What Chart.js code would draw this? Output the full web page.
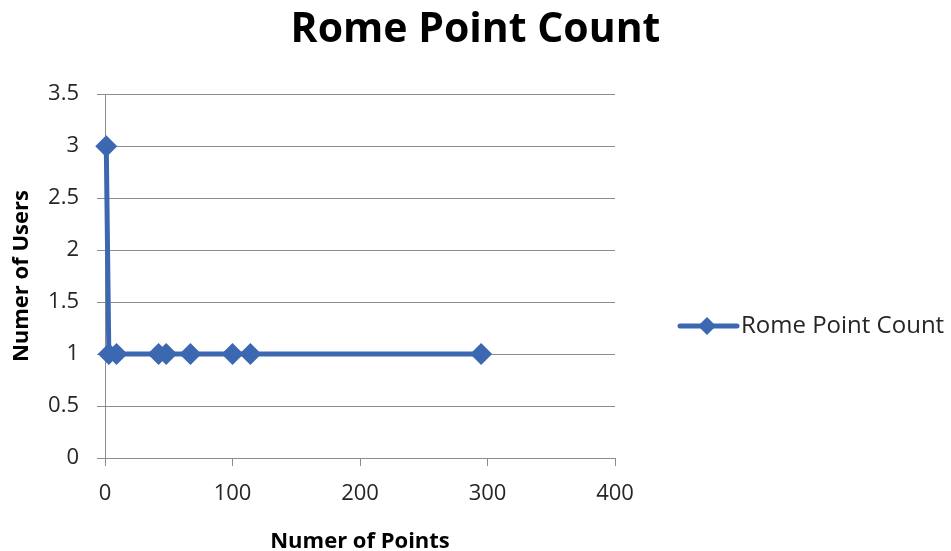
<!DOCTYPE html>
<html>
<head>
<meta charset="utf-8">
<title>Rome Point Count</title>
<script src="https://cdn.jsdelivr.net/npm/chart.js@4.4.1/dist/chart.umd.min.js"></script>
<style>
  html, body { margin: 0; padding: 0; background: #ffffff; }
  #wrap { width: 951px; height: 551px; }
</style>
</head>
<body>
<div id="wrap"><canvas id="chart" width="951" height="551"></canvas></div>
<script>
// Number of points per user and how many users had that count
const seriesName = 'Rome Point Count';
const pointCounts = [1, 3, 9, 42, 48, 67, 100, 114, 295];
const userCounts  = [3, 1, 1, 1, 1, 1, 1, 1, 1];
const xTicks = [0, 100, 200, 300, 400];
const yTicks = [0, 0.5, 1, 1.5, 2, 2.5, 3, 3.5];

const FONT = "'Open Sans', 'Liberation Sans', sans-serif";
const BLUE = '#3C68B1';
const GRID = '#8C8C8C';
const TEXT = '#262626';

// Legend drawn to the right of the plot: a line segment with a diamond marker
const sideLegend = {
  id: 'sideLegend',
  afterDraw(chart) {
    const ds = chart.data.datasets[0];
    const ctx = chart.ctx;
    const cy = 326, x0 = 680, x1 = 737, cx = 707, r = 9;
    ctx.save();
    ctx.strokeStyle = ds.borderColor;
    ctx.lineWidth = ds.borderWidth;
    ctx.lineCap = 'round';
    ctx.beginPath();
    ctx.moveTo(x0, cy);
    ctx.lineTo(x1, cy);
    ctx.stroke();
    ctx.fillStyle = ds.pointBackgroundColor;
    ctx.beginPath();
    ctx.moveTo(cx, cy - r);
    ctx.lineTo(cx + r, cy);
    ctx.lineTo(cx, cy + r);
    ctx.lineTo(cx - r, cy);
    ctx.closePath();
    ctx.fill();
    ctx.fillStyle = TEXT;
    ctx.font = '24px ' + FONT;
    ctx.textAlign = 'left';
    ctx.textBaseline = 'middle';
    ctx.fillText(ds.label, 741, cy);
    ctx.restore();
  }
};

new Chart(document.getElementById('chart'), {
  type: 'scatter',
  data: {
    datasets: [{
      label: seriesName,
      data: pointCounts.map((x, i) => ({ x: x, y: userCounts[i] })),
      showLine: true,
      borderColor: BLUE,
      borderWidth: 5,
      backgroundColor: BLUE,
      pointBackgroundColor: BLUE,
      pointBorderColor: BLUE,
      pointBorderWidth: 0,
      pointStyle: 'rectRot',
      pointRadius: 11,
      pointHoverRadius: 11,
      clip: false
    }]
  },
  options: {
    responsive: false,
    animation: false,
    layout: { padding: 0 },
    plugins: {
      legend: { display: false },
      tooltip: { enabled: false },
      title: {
        display: true,
        text: seriesName,
        color: '#000000',
        font: { family: FONT, size: 41, weight: 'bold', lineHeight: 1.2 },
        padding: { top: 6, bottom: 39 }
      }
    },
    scales: {
      x: {
        type: 'linear',
        min: 0,
        max: 400,
        afterBuildTicks(scale) { scale.ticks = xTicks.map(v => ({ value: v })); },
        afterFit(scale) { scale.height = 93; },
        grid: {
          drawOnChartArea: false,
          drawTicks: true,
          tickLength: 8,
          color: GRID,
          lineWidth: 1
        },
        border: { color: GRID, width: 1 },
        ticks: {
          color: TEXT,
          font: { family: FONT, size: 22 },
          padding: 15,
          maxRotation: 0
        },
        title: {
          display: true,
          text: 'Numer of Points',
          color: '#000000',
          font: { family: FONT, size: 22, weight: 'bold', lineHeight: 0.85 },
          padding: { top: 0, bottom: 0 }
        }
      },
      y: {
        type: 'linear',
        min: 0,
        max: 3.5,
        afterBuildTicks(scale) { scale.ticks = yTicks.map(v => ({ value: v })); },
        afterFit(scale) { scale.width = 105; },
        grid: {
          drawOnChartArea: true,
          drawTicks: true,
          tickLength: 8,
          color: GRID,
          lineWidth: 1
        },
        border: { color: GRID, width: 1 },
        ticks: {
          color: TEXT,
          font: { family: FONT, size: 22 },
          padding: 18,
          callback: v => String(v)
        },
        title: {
          display: true,
          text: 'Numer of Users',
          color: '#000000',
          font: { family: FONT, size: 22, weight: 'bold', lineHeight: 1.0 },
          padding: { top: 11, bottom: 0 }
        }
      },
      // empty right-hand axis that reserves the space where the legend sits
      legendSpace: {
        type: 'linear',
        position: 'right',
        display: true,
        afterFit(scale) { scale.width = 336; },
        grid: { display: false, drawTicks: false },
        border: { display: false },
        ticks: { display: false }
      }
    }
  },
  plugins: [sideLegend]
});
</script>
</body>
</html>
